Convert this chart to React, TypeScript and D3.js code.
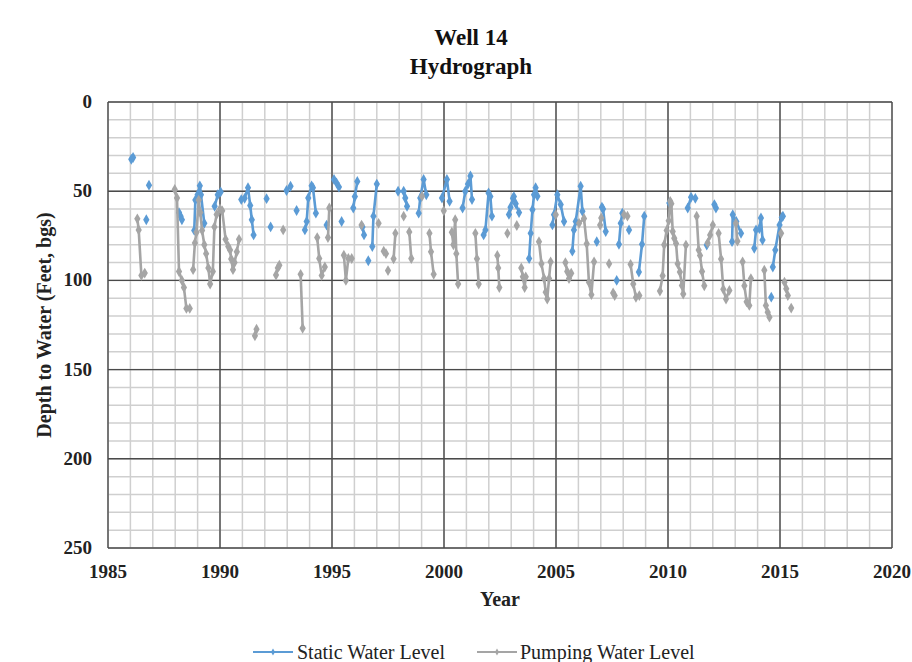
import React from "react";
import * as d3 from "d3";

type Pt = [number, number];

// static water level readings (year, depth ft), each inner list is a connected run
const staticLevel: Pt[][] = [
  [[1986.04, 32.1], [1986.12, 31.1]],
  [[1986.83, 46.6]],
  [[1986.71, 66]],
  [[1988.17, 62], [1988.24, 64], [1988.3, 66]],
  [[1988.85, 72], [1988.9, 55], [1989.0, 52], [1989.1, 47], [1989.15, 52], [1989.3, 68]],
  [[1989.76, 58.5], [1989.9, 52], [1990.03, 50.4]],
  [[1990.95, 54.7], [1991.1, 54], [1991.25, 48], [1991.35, 58], [1991.42, 66], [1991.5, 74.5]],
  [[1992.08, 54.2]],
  [[1992.26, 70]],
  [[1992.97, 49.6], [1993.15, 47.2]],
  [[1993.42, 60.8]],
  [[1993.79, 71.7], [1993.87, 67], [1993.94, 53.8], [1994.09, 47], [1994.15, 48], [1994.28, 62.3]],
  [[1994.76, 69]],
  [[1995.09, 43.4], [1995.2, 45.3], [1995.31, 47.7]],
  [[1995.43, 67]],
  [[1995.95, 59.4], [1996.02, 53], [1996.13, 44.5]],
  [[1996.36, 70], [1996.43, 74.5]],
  [[1996.62, 89]],
  [[1996.8, 81], [1996.85, 64], [1997.0, 46]],
  [[1997.95, 50], [1998.2, 50], [1998.27, 53.8], [1998.35, 58.5]],
  [[1998.87, 62.3], [1998.94, 53.8], [1999.09, 43.4], [1999.21, 52]],
  [[1999.91, 53.8], [2000.13, 43.4], [2000.25, 55.7]],
  [[2000.83, 59.4], [2000.95, 50], [2001.07, 46], [2001.18, 41.5], [2001.25, 54.7]],
  [[2001.77, 74.5], [2001.85, 71.7], [2001.99, 51], [2002.07, 53], [2002.14, 64]],
  [[2002.9, 63], [2002.97, 59], [2003.08, 54], [2003.12, 53], [2003.2, 57], [2003.35, 62]],
  [[2003.8, 87.7], [2003.87, 73.6], [2003.95, 60.4], [2004.02, 52], [2004.09, 48], [2004.17, 52.8]],
  [[2004.84, 68.9], [2004.91, 63.2], [2005.06, 52], [2005.21, 57.5], [2005.36, 67]],
  [[2005.73, 83.6], [2005.8, 71.7], [2005.88, 67], [2006.1, 47.2], [2006.18, 61.3]],
  [[2006.82, 78.3]],
  [[2007.05, 59], [2007.1, 60], [2007.22, 72.6]],
  [[2007.71, 100]],
  [[2007.81, 79.8], [2007.89, 68], [2007.96, 62.3]],
  [[2008.26, 71.7]],
  [[2008.7, 95.3], [2008.84, 79.8], [2008.94, 64]],
  [[2010.06, 56.6]],
  [[2010.88, 59.4], [2011.03, 53.4], [2011.22, 54]],
  [[2011.73, 80.2]],
  [[2012.07, 57.5], [2012.14, 59.4]],
  [[2012.86, 78.3], [2012.89, 63.2], [2013.05, 67], [2013.26, 73.6]],
  [[2013.85, 82], [2013.93, 71.7], [2014.08, 71], [2014.15, 65], [2014.22, 77.4]],
  [[2014.61, 109.4]],
  [[2014.68, 92.5], [2014.79, 83], [2014.98, 68.9], [2015.08, 64.7], [2015.13, 64]],
];

// pumping water level readings
const pumpingLevel: Pt[][] = [
  [[1986.31, 65.5], [1986.37, 71.7], [1986.49, 97.2], [1986.64, 95.9]],
  [[1987.98, 49], [1988.08, 53.8], [1988.17, 95], [1988.3, 100], [1988.39, 104], [1988.5, 115.7], [1988.65, 115.7]],
  [
    [1988.8, 94], [1988.88, 79], [1988.95, 73], [1989.05, 55], [1989.12, 62], [1989.2, 72],
    [1989.3, 80], [1989.38, 85], [1989.48, 93], [1989.56, 102], [1989.68, 95], [1989.75, 70],
    [1989.85, 63], [1990.0, 60], [1990.1, 61], [1990.25, 77], [1990.37, 81], [1990.45, 83],
    [1990.5, 88], [1990.58, 94], [1990.65, 90], [1990.75, 84], [1990.85, 77],
  ],
  [[1991.56, 131], [1991.63, 127.4]],
  [[1992.5, 97], [1992.58, 93], [1992.65, 91.5]],
  [[1992.82, 71.7]],
  [[1993.6, 96.6], [1993.69, 126.8]],
  [[1994.34, 76], [1994.43, 87.7], [1994.54, 97.2], [1994.68, 92.5]],
  [[1994.82, 76], [1994.88, 59.4]],
  [[1995.53, 85.9], [1995.62, 100], [1995.73, 87.7], [1995.88, 87.7]],
  [[1996.32, 69]],
  [[1997.08, 68]],
  [[1997.31, 83.6], [1997.41, 85]],
  [[1997.5, 94.5]],
  [[1997.75, 87.9], [1997.83, 73.6]],
  [[1998.2, 64]],
  [[1998.45, 72.8], [1998.54, 87.7]],
  [[1999.02, 52.8]],
  [[1999.35, 73.6], [1999.42, 84], [1999.54, 96.6]],
  [[1999.99, 61]],
  [[2000.35, 73], [2000.42, 80], [2000.5, 66], [2000.55, 85], [2000.63, 102]],
  [[2001.4, 73.6], [2001.47, 87.9], [2001.55, 102]],
  [[2002.38, 86], [2002.42, 93], [2002.47, 104]],
  [[2002.83, 73.6]],
  [[2003.25, 69.2]],
  [[2003.45, 93], [2003.52, 98], [2003.6, 104], [2003.65, 98]],
  [[2004.24, 78.3], [2004.35, 90.6], [2004.47, 99], [2004.54, 106.6], [2004.61, 110.4], [2004.69, 99], [2004.76, 89.6]],
  [[2004.99, 63.2]],
  [[2005.42, 90], [2005.5, 95], [2005.58, 99], [2005.68, 96]],
  [[2006.03, 68], [2006.25, 65.3], [2006.37, 79.4], [2006.47, 101], [2006.58, 108], [2006.7, 89.6]],
  [[2006.97, 69], [2007.02, 65]],
  [[2007.37, 90.6]],
  [[2007.55, 107], [2007.62, 108.5]],
  [[2008.04, 63.2], [2008.19, 64]],
  [[2008.33, 91], [2008.45, 102], [2008.57, 109.5], [2008.72, 108.5]],
  [
    [2009.64, 106], [2009.76, 97.4], [2009.83, 80], [2009.94, 72], [2010.03, 66.6], [2010.1, 55.7],
    [2010.15, 57], [2010.21, 72.6], [2010.28, 76.4], [2010.36, 79.3], [2010.43, 90.6], [2010.53, 95.3],
    [2010.62, 102.8], [2010.68, 107.6], [2010.8, 80.2],
  ],
  [[2011.28, 64], [2011.37, 83], [2011.43, 86], [2011.52, 95], [2011.62, 103]],
  [[2011.77, 79], [2011.88, 74.5], [2012.0, 69]],
  [[2012.26, 73.6], [2012.37, 88], [2012.47, 105], [2012.59, 110.4], [2012.74, 105.6]],
  [[2013.03, 68], [2013.1, 78]],
  [[2013.33, 89.6], [2013.41, 103], [2013.51, 112], [2013.63, 114], [2013.7, 99]],
  [[2014.3, 94.3], [2014.37, 114], [2014.45, 117.8], [2014.53, 120.6]],
  [[2015.05, 73.6]],
  [[2015.2, 101], [2015.28, 104.7], [2015.35, 108.5]],
  [[2015.5, 115.5]],
];

const xTicks = [1985, 1990, 1995, 2000, 2005, 2010, 2015, 2020];
const yTicks = [0, 50, 100, 150, 200, 250];

const BLUE = "#5b9bd5";
const GRAY = "#a5a5a5";
const FONT = "'Liberation Serif', 'Times New Roman', serif";

export default function App() {
  const left = 108, right = 892, top = 102, bottom = 548;
  const x = d3.scaleLinear().domain([1985, 2020]).range([left, right]);
  const y = d3.scaleLinear().domain([0, 250]).range([top, bottom]);
  const line = d3.line<Pt>().x((d) => x(d[0])).y((d) => y(d[1]));
  const diamond = d3.symbol(d3.symbolDiamond, 34)()!;
  const smallDiamond = d3.symbol(d3.symbolDiamond, 14)()!;

  const minorX = d3.range(1985, 2021, 1);
  const minorY = d3.range(0, 251, 10);

  const series = [
    { data: staticLevel, color: BLUE },
    { data: pumpingLevel, color: GRAY },
  ];

  return (
    <svg width={912} height={662} style={{ position: "absolute", left: 0, top: 0, background: "#fff" }} fontFamily={FONT}>
      {/* minor grid */}
      {minorX.map((v) => (
        <line key={"mx" + v} x1={x(v)} x2={x(v)} y1={top} y2={bottom} stroke="#cfcfcf" strokeWidth={1.5} />
      ))}
      {minorY.map((v) => (
        <line key={"my" + v} x1={left} x2={right} y1={y(v)} y2={y(v)} stroke="#cfcfcf" strokeWidth={1.5} />
      ))}
      {/* major grid */}
      {xTicks.map((v) => (
        <line key={"Mx" + v} x1={x(v)} x2={x(v)} y1={top} y2={bottom} stroke="#4a4a4a" strokeWidth={1.4} />
      ))}
      {yTicks.map((v) => (
        <line key={"My" + v} x1={left} x2={right} y1={y(v)} y2={y(v)} stroke="#4a4a4a" strokeWidth={1.4} />
      ))}

      {series.map((s, si) => (
        <g key={si}>
          {s.data.map((seg, i) => (
            <path key={i} d={line(seg) ?? ""} fill="none" stroke={s.color} strokeWidth={2.6} strokeLinejoin="round" />
          ))}
          {s.data.flat().map((p, i) => (
            <path key={"m" + i} d={diamond} transform={`translate(${x(p[0])},${y(p[1])})`} fill={s.color} />
          ))}
        </g>
      ))}

      {/* tick labels */}
      {yTicks.map((v) => (
        <text key={"yt" + v} x={92} y={y(v) + 6} textAnchor="end" fontSize={19} fontWeight="bold" fill="#222">
          {v}
        </text>
      ))}
      {xTicks.map((v) => (
        <text key={"xt" + v} x={x(v)} y={578} textAnchor="middle" fontSize={19} fontWeight="bold" fill="#222">
          {v}
        </text>
      ))}

      {/* titles */}
      <text x={471} y={45} textAnchor="middle" fontSize={23} fontWeight="bold" fill="#111">Well 14</text>
      <text x={471} y={74} textAnchor="middle" fontSize={23} fontWeight="bold" fill="#111">Hydrograph</text>
      <text x={500} y={606} textAnchor="middle" fontSize={20} fontWeight="bold" fill="#222">Year</text>
      <text
        transform={`translate(51,${(top + bottom) / 2}) rotate(-90)`}
        textAnchor="middle"
        fontSize={20}
        fontWeight="bold"
        fill="#222"
      >
        Depth to Water (Feet, bgs)
      </text>

      {/* legend */}
      <line x1={253} x2={293} y1={652} y2={652} stroke={BLUE} strokeWidth={2} />
      <path d={smallDiamond} transform="translate(273,652)" fill={BLUE} />
      <text x={297} y={659} fontSize={20} fill="#222">Static Water Level</text>
      <line x1={477} x2={517} y1={652} y2={652} stroke={GRAY} strokeWidth={2} />
      <path d={smallDiamond} transform="translate(497,652)" fill={GRAY} />
      <text x={520} y={659} fontSize={20} fill="#222">Pumping Water Level</text>
    </svg>
  );
}
